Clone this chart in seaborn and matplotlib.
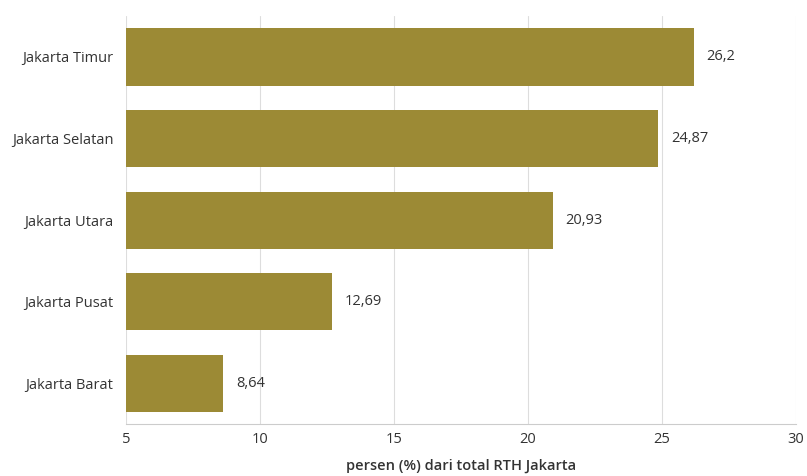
import pandas as pd
import matplotlib.pyplot as plt
import seaborn as sns

# Data
wilayah = ["Jakarta Timur", "Jakarta Selatan", "Jakarta Utara", "Jakarta Pusat", "Jakarta Barat"]
persen = [26.2, 24.87, 20.93, 12.69, 8.64]
label_persen = ["26,2", "24,87", "20,93", "12,69", "8,64"]

df = pd.DataFrame({"wilayah": wilayah, "persen": persen})

sns.set_style("white")
plt.rcParams["font.family"] = ["Open Sans", "DejaVu Sans"]

fig = plt.figure(figsize=(8.07, 4.76), dpi=100)
ax = fig.add_axes([0.156, 0.109, 0.83, 0.857])

sns.barplot(data=df, x="persen", y="wilayah", color="#9C8A35", saturation=1,
            width=0.7, edgecolor="none", ax=ax, zorder=2)

for i, (v, t) in enumerate(zip(persen, label_persen)):
    ax.annotate(t, xy=(v, i), xytext=(9, 0), textcoords="offset points",
                va="center", ha="left", fontsize=10.5, color="#333333")

ax.set_xlim(5, 30)
ax.set_ylim(4.5, -0.5)
ax.set_xticks([5, 10, 15, 20, 25, 30])
ax.grid(axis="x", color="#dddddd", linewidth=0.8, zorder=0)
for s in ["top", "right", "left"]:
    ax.spines[s].set_visible(False)
ax.spines["bottom"].set_color("#cccccc")
ax.tick_params(axis="both", length=0, labelsize=10.5, colors="#333333")
ax.tick_params(axis="x", pad=6)
ax.tick_params(axis="y", pad=9)
ax.set_ylabel("")
ax.set_xlabel("persen (%) dari total RTH Jakarta", fontsize=10.5, fontweight="semibold",
              color="#333333", labelpad=8)

plt.savefig("out.png", dpi=100)
